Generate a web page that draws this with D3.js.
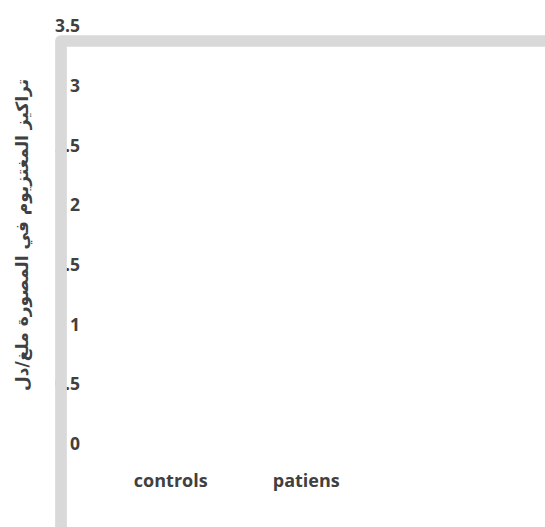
<!DOCTYPE html>
<html>
<head>
<meta charset="utf-8">
<script src="https://cdn.jsdelivr.net/npm/d3@7"></script>
<style>
  html, body { margin: 0; padding: 0; background: #fff; }
  svg { display: block; }
</style>
</head>
<body>
<svg id="chart" width="545" height="527"></svg>
<script>
const categories = ["controls", "patiens"];
const values = [0, 0];
const yTicks = [0, 0.5, 1, 1.5, 2, 2.5, 3, 3.5];
const yTitle = "تراكيز المغتزيوم في المصورة ملغ/دل";

const svg = d3.select("#chart");
const W = 545, H = 527;
const textColor = "#404040";
const labelFont = "'Open Sans', Lato, sans-serif";

const y = d3.scaleLinear().domain([0, 3.5]).range([444, 26]);
const x = d3.scaleBand().domain(categories).range([103, 374])
  .paddingInner(0.3).paddingOuter(0.15);

// bars (none visible in the reference)
svg.append("g").selectAll("rect").data(values).join("rect")
  .attr("x", (d, i) => x(categories[i]))
  .attr("width", x.bandwidth())
  .attr("y", d => y(d))
  .attr("height", d => y(0) - y(d))
  .attr("fill", "#4472c4");

// y tick labels
const yAxis = d3.axisLeft(y).tickValues(yTicks).tickSize(0).tickPadding(0)
  .tickFormat(d3.format("~g"));
const gy = svg.append("g").attr("transform", "translate(80,0)").call(yAxis);
gy.select(".domain").remove();
gy.selectAll("text")
  .attr("fill", textColor)
  .style("font-family", labelFont)
  .style("font-weight", "bold")
  .style("font-size", "17.5px");

// x category labels
const xAxis = d3.axisBottom(x).tickSize(0).tickPadding(0);
const gx = svg.append("g").attr("transform", "translate(0,474)").call(xAxis);
gx.select(".domain").remove();
gx.selectAll("text")
  .attr("fill", textColor)
  .style("font-family", labelFont)
  .style("font-weight", "bold")
  .style("font-size", "18px");

// grey wall band (drawn over labels)
svg.append("path")
  .attr("d", `M61,${H + 20} L61,41 L${W + 20},41`)
  .attr("fill", "none")
  .attr("stroke", "#d9d9d9")
  .attr("stroke-width", 11.7)
  .attr("stroke-linejoin", "round");

// y title
svg.append("text")
  .attr("transform", "translate(23,235) rotate(-90)")
  .attr("text-anchor", "middle")
  .attr("dominant-baseline", "middle")
  .attr("fill", textColor)
  .style("font-family", "'DejaVu Sans', sans-serif")
  .style("font-weight", "bold")
  .style("font-size", "17px")
  .text(yTitle);
</script>
</body>
</html>
